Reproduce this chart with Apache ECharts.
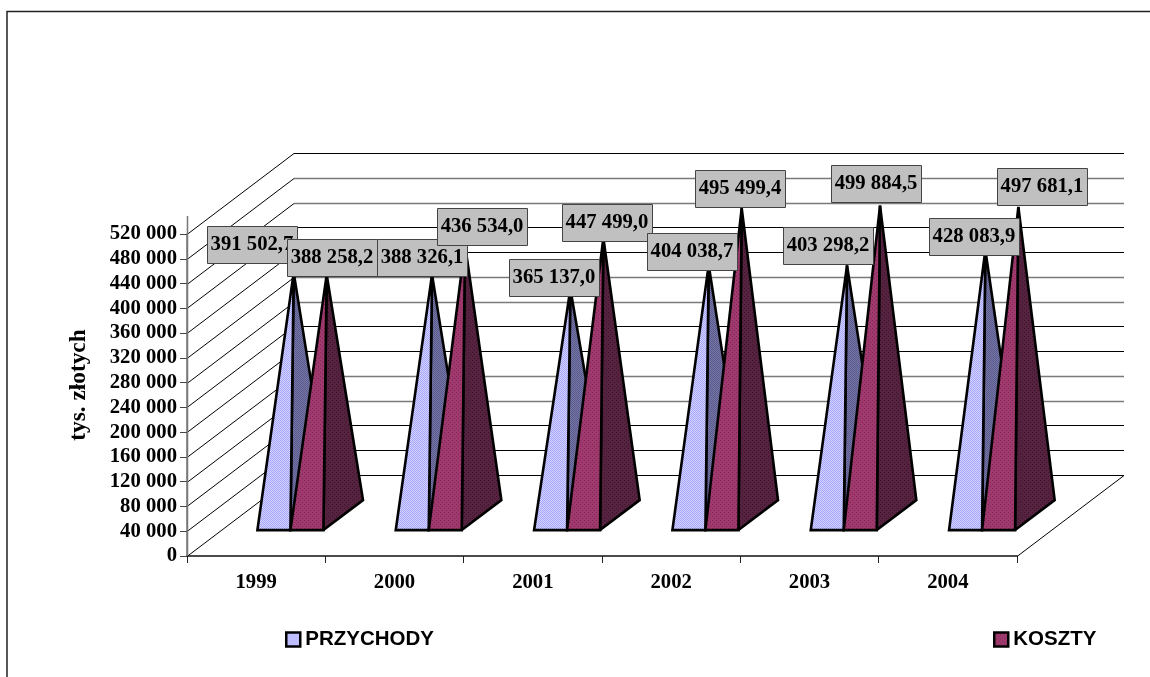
<!DOCTYPE html>
<html><head><meta charset="utf-8">
<style>html,body{margin:0;padding:0;background:#fff}#c{width:1150px;height:677px}</style>
<script src="https://cdn.jsdelivr.net/npm/echarts@6/dist/echarts.min.js"></script>
</head><body><div id="c"></div>
<script>
var categories = ['1999','2000','2001','2002','2003','2004'];
var przychody = [391502.7, 388326.1, 365137.0, 404038.7, 403298.2, 428083.9];
var koszty = [388258.2, 436534.0, 447499.0, 495499.4, 499884.5, 497681.1];
var axisTicks = [0,40000,80000,120000,160000,200000,240000,280000,320000,360000,400000,440000,480000,520000];
var axisTopValue = 549000;
// hand-placed label boxes: offset of box centre from pyramid apex
var przychodyLabelDx = [-41.7,-10,-16.4,-16.7,-19,-11.4];
var przychodyLabelDy = [-27.7,-17.1,-11,-13.4,-19.4,-13.5];
var kosztyLabelDx = [5.3,17,3.6,-1.7,-4,23.6];
var kosztyLabelDy = [-17.2,-17.8,-15,-19.8,-22,-20.4];

var DX = 107, DY = 81, F_FRONT = 0.32, F_BACK = 0.69, F_MID = 0.505, BAR = 0.2386;

function pat(base, mark, kind){
  var n = 4, cv = document.createElement('canvas'); cv.width = n; cv.height = n;
  var g = cv.getContext('2d'); g.fillStyle = base; g.fillRect(0,0,n,n); g.fillStyle = mark;
  if (kind === 'diag') { for (var i=0;i<n;i++){ g.fillRect(i,i,1,1); g.fillRect((i+2)%n,i,1,1);} }
  else { g.fillRect(0,0,1,1); g.fillRect(2,2,1,1); }
  return {image: cv, repeat: 'repeat'};
}
var fills = {
  p: {front: pat('#d6d6ff','#a4a4ff','diag'), side: pat('#7676a6','#5a5a8c','diag')},
  k: {front: pat('#a03a6e','#7d2853','dot'), side: pat('#552340','#3c1329','dot')}
};

function fmt(v, dec){
  var s = dec ? v.toFixed(1).replace('.', ',') : String(Math.round(v));
  return s.replace(/\B(?=(\d{3})+(?!\d))/g, ' ');
}
function apex(api, cat, val, seriesIdx){
  var c0 = api.coord([cat, 0]), cv = api.coord([cat, val]), w = api.size([1,0])[0]*BAR;
  var cx = c0[0] + (seriesIdx === 0 ? -w/2 : w/2);
  return {x: cx + DX*F_MID, y: cv[1] - DY*F_MID, w: w, x0: c0[0], y0: c0[1], cx: cx};
}
function pyramid(key, seriesIdx){
  return function(params, api){
    var a = apex(api, api.value(0), api.value(1), seriesIdx);
    var fy = a.y0 - DY*F_FRONT, by = a.y0 - DY*F_BACK;
    var fl = a.cx + DX*F_FRONT - a.w/2, fr = fl + a.w;
    var br = fr + DX*(F_BACK-F_FRONT);
    var line = {stroke:'#000', lineWidth:2.6, lineJoin:'miter', miterLimit:2};
    return {type:'group', children:[
      {type:'polygon', shape:{points:[[fr,fy],[br,by],[a.x,a.y]]}, style:Object.assign({fill:fills[key].side}, line)},
      {type:'polygon', shape:{points:[[fl,fy],[fr,fy],[a.x,a.y]]}, style:Object.assign({fill:fills[key].front}, line)}
    ]};
  };
}
function walls(params, api){
  var v = api.value(0), i = params.dataIndex, p = api.coord([0, v]);
  var size = api.size([1,0])[0], x0 = p[0] - size/2, y = Math.round(p[1]);
  var black = [true,true,true,false,false,true,true,false,false,true,true,false,false,true][i];
  var st = {stroke: black ? '#000' : '#7a7a7a', lineWidth: black ? 1 : 1.6, fill:'none'};
  return {type:'group', children:[
    {type:'line', shape:{x1:x0,y1:y+.5,x2:x0+DX,y2:y-DY+.5}, style:{stroke:'#000',lineWidth:1}},
    {type:'line', shape:{x1:x0+DX,y1:y-DY+.5,x2:x0+DX+size*6,y2:y-DY+.5}, style:st}
  ]};
}
function floor(params, api){
  var size = api.size([1,0])[0], z = api.coord([0,0]), t = api.coord([0,axisTopValue]);
  var x0 = z[0]-size/2, xr = x0+size*6, y = Math.round(z[1]);
  return {type:'group', children:[
    {type:'line', shape:{x1:xr,y1:y+.5,x2:xr+DX,y2:y-DY+.5}, style:{stroke:'#000',lineWidth:1}},
    {type:'line', shape:{x1:x0+.5,y1:y,x2:x0+.5,y2:t[1]}, style:{stroke:'#777',lineWidth:1.5}}
  ]};
}
function labelItem(params, api){
  var a = apex(api, api.value(0), api.value(1), api.value(2));
  var cx = a.x + api.value(3), cy = a.y + api.value(4), w = 90, h = 37;
  return {type:'group', children:[
    {type:'rect', shape:{x:Math.round(cx-w/2)+.5,y:Math.round(cy-h/2)+.5,width:w,height:h},
     style:{fill:'#c0c0c0',stroke:'#444',lineWidth:1}},
    {type:'text', style:{x:cx,y:cy,text:fmt(api.value(1),true),align:'center',verticalAlign:'middle',
      fill:'#000',font:'bold 20.7px "Liberation Serif"'}}
  ]};
}
var pData = przychody.map(function(v,i){return [i,v];});
var kData = koszty.map(function(v,i){return [i,v];});
var lData = [];
przychody.forEach(function(v,i){ lData.push([i,v,0,przychodyLabelDx[i],przychodyLabelDy[i]]);
  lData.push([i,koszty[i],1,kosztyLabelDx[i],kosztyLabelDy[i]]); });

var chart = echarts.init(document.getElementById('c'), null, {renderer:'canvas'});
var serif = '"Liberation Serif"', sans = '"Liberation Sans"';
chart.setOption({
  animation:false, backgroundColor:'#fff',
  grid:{left:187,right:133,top:234,bottom:121},
  xAxis:{type:'category',data:categories,boundaryGap:true,
    axisLine:{lineStyle:{color:'#111',width:1.5}},
    axisTick:{show:true,length:7,alignWithLabel:false,lineStyle:{color:'#222',width:1}},
    axisLabel:{margin:16,color:'#000',fontFamily:serif,fontWeight:'bold',fontSize:20.7},splitLine:{show:false}},
  yAxis:{type:'value',min:0,max:520000,interval:40000,
    name:'tys. złotych',nameLocation:'middle',nameGap:97,nameRotate:90,
    nameTextStyle:{color:'#000',fontFamily:serif,fontWeight:'bold',fontSize:23.3,padding:[0,0,0,20]},
    axisLine:{show:true,lineStyle:{color:'#777',width:1.5}},
    axisTick:{show:true,length:7,lineStyle:{color:'#444',width:1}},
    axisLabel:{margin:10,color:'#000',fontFamily:serif,fontWeight:'bold',fontSize:20.7,
      formatter:function(v){return fmt(v,false);}},
    splitLine:{show:false}},
  legend:[
    {show:true,left:280,top:624,itemWidth:14,itemHeight:14,selectedMode:false,
     data:[{name:'PRZYCHODY',icon:'rect',itemStyle:{color:fills.p.front,borderColor:'#000',borderWidth:2.5}}],
     textStyle:{color:'#000',fontFamily:sans,fontWeight:'bold',fontSize:20.5}},
    {show:true,left:988,top:624,itemWidth:14,itemHeight:14,selectedMode:false,
     data:[{name:'KOSZTY',icon:'rect',itemStyle:{color:fills.k.front,borderColor:'#000',borderWidth:2.5}}],
     textStyle:{color:'#000',fontFamily:sans,fontWeight:'bold',fontSize:20.5}}
  ],
  graphic:[{type:'rect',silent:true,shape:{x:7,y:11.5,width:1160,height:700},
    style:{fill:'none',stroke:'#222',lineWidth:1.5}}],
  series:[
    {type:'custom',name:'walls',data:axisTicks.map(function(v){return [v];}),encode:{y:0},renderItem:walls,clip:false,silent:true,z:1},
    {type:'custom',name:'floor',data:[[0]],encode:{y:0},renderItem:floor,clip:false,silent:true,z:1},
    {type:'custom',name:'PRZYCHODY',data:pData,encode:{x:0,y:1},renderItem:pyramid('p',0),clip:false,z:3,itemStyle:{color:'#c0c0ff'}},
    {type:'custom',name:'KOSZTY',data:kData,encode:{x:0,y:1},renderItem:pyramid('k',1),clip:false,z:4,itemStyle:{color:'#993366'}},
    {type:'custom',name:'labels',data:lData,encode:{x:0,y:1},renderItem:labelItem,clip:false,z:5}
  ]
});
</script></body></html>
